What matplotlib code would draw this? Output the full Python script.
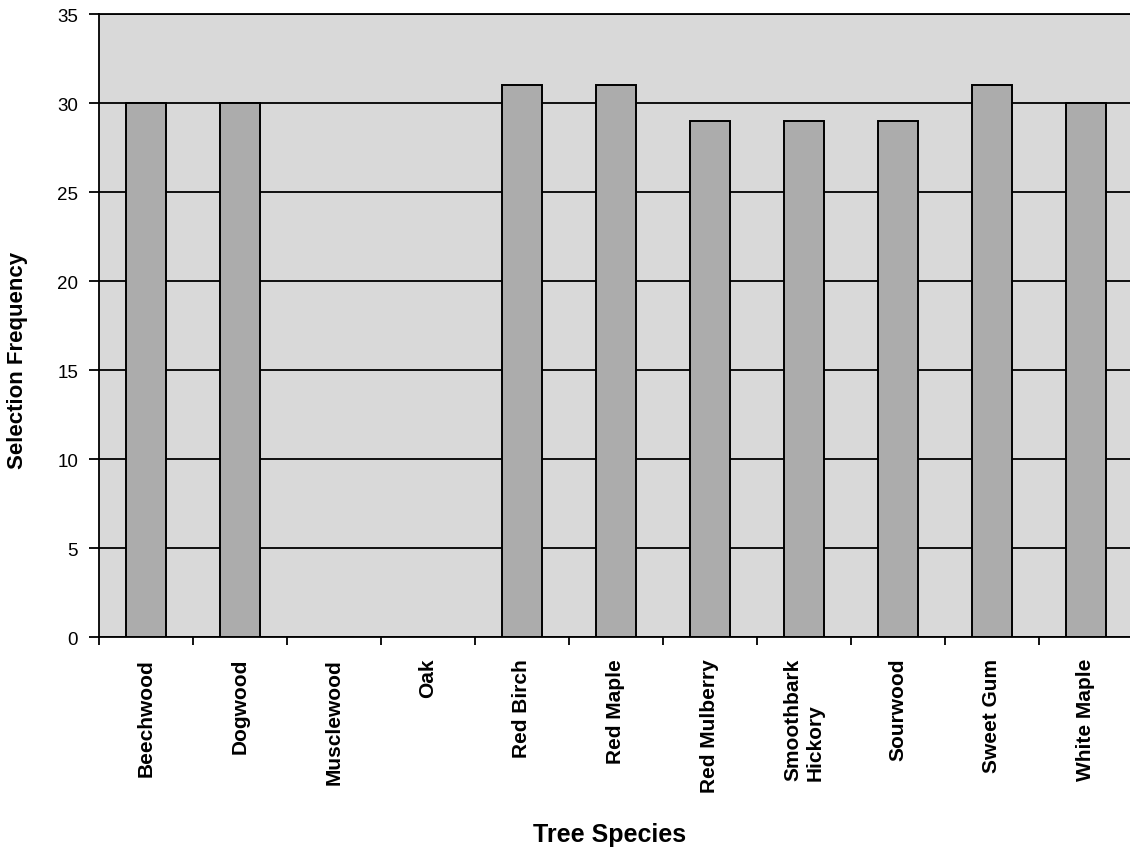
import numpy as np
import matplotlib
matplotlib.use("Agg")
import matplotlib.pyplot as plt
from matplotlib.ticker import FixedLocator

plt.rcParams["font.family"] = ["Liberation Sans", "DejaVu Sans"]

# Selection frequency per tree species
species = ["Beechwood", "Dogwood", "Musclewood", "Oak", "Red Birch", "Red Maple",
           "Red Mulberry", "Smoothbark\nHickory", "Sourwood", "Sweet Gum", "White Maple"]
frequency = [30, 30, 0, 0, 31, 31, 29, 29, 29, 31, 30]
y_ticks = [0, 5, 10, 15, 20, 25, 30, 35]

fig = plt.figure(figsize=(11.3, 8.54), dpi=100)
ax = fig.add_axes([0.0876, 0.2529, 0.915, 0.7295])
ax.set_facecolor("#d9d9d9")

x = np.arange(len(species))
ax.bar(x, frequency, width=0.42, color="#acacac", edgecolor="black",
       linewidth=1.4, zorder=3)

ax.set_xlim(-0.5, len(species) - 0.5)
ax.set_ylim(0, 35)
ax.yaxis.set_major_locator(FixedLocator(y_ticks))
ax.yaxis.grid(True, color="black", linewidth=1.3, zorder=1)
ax.set_axisbelow(True)

# labels sit under each bar, tick marks sit between categories
ax.set_xticks(x)
ax.set_xticklabels(species, rotation=90, fontsize=15, fontweight="bold",
                   va="top", ha="center", multialignment="left")
ax.tick_params(axis="x", which="major", length=0, pad=15)
ax.xaxis.set_minor_locator(FixedLocator(np.arange(-0.5, len(species), 1.0)))
ax.tick_params(axis="x", which="minor", length=6, width=1.3, direction="out")
ax.tick_params(axis="y", length=7, width=1.3, direction="out", labelsize=13.5, pad=8)

for side in ["left", "bottom", "top"]:
    ax.spines[side].set_color("black")
    ax.spines[side].set_linewidth(1.3)
ax.spines["right"].set_visible(False)

fig.text(18 / 1130, 1 - 360 / 854, "Selection Frequency", rotation=90,
         ha="center", va="center", fontsize=16, fontweight="bold")
fig.text(610 / 1130, 1 - 842 / 854, "Tree Species", ha="center", va="baseline",
         fontsize=18, fontweight="bold")

fig.savefig("out.png", dpi=100, facecolor="white")
